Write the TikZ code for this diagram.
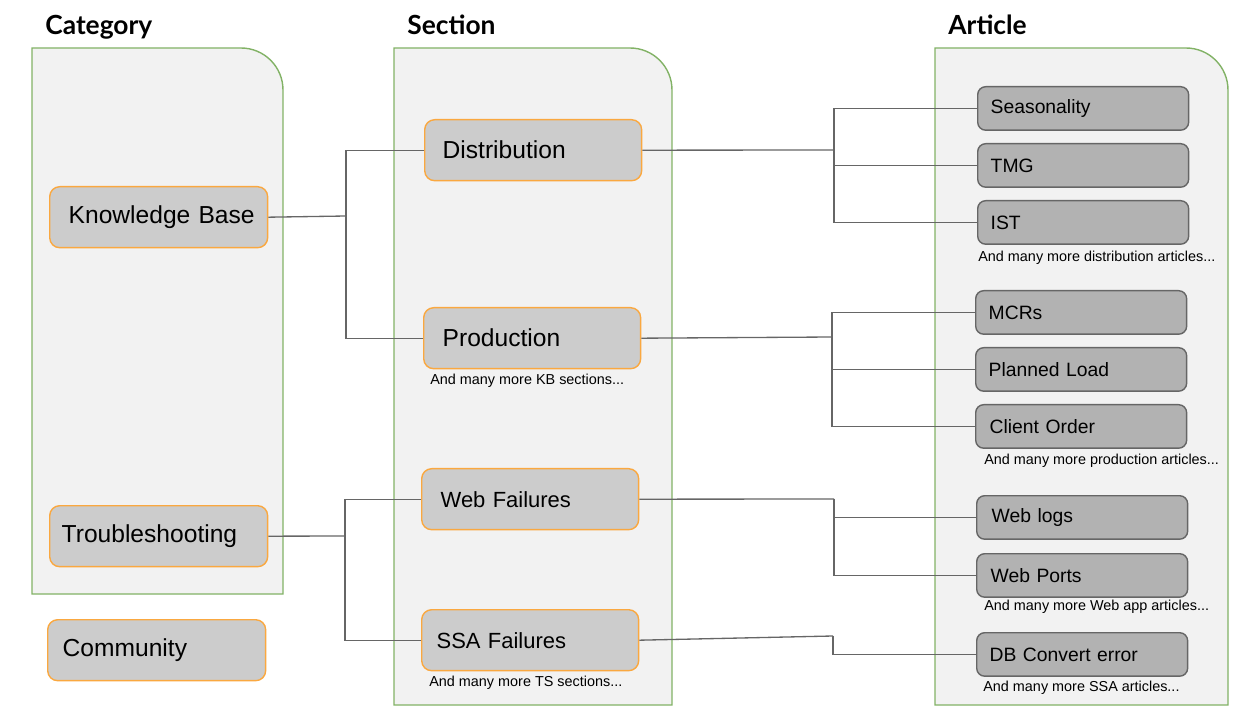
\documentclass[tikz,border=0pt]{standalone}
\usepackage{fontspec}
\setmainfont{Liberation Sans}
\newfontfamily\headfont{Lato}
\usetikzlibrary{calc}
\definecolor{PanelClr}{rgb}{0.51,0.70,0.40}
\definecolor{PanelFill}{rgb}{0.949,0.949,0.949}
\definecolor{OrangeClr}{rgb}{0.98,0.66,0.25}
\definecolor{BoxClr}{rgb}{0.8,0.8,0.8}
\definecolor{ArtClr}{rgb}{0.70,0.70,0.70}
\definecolor{LineClr}{rgb}{0.4,0.4,0.4}

\begin{document}
\begin{tikzpicture}[x=0.02cm,y=-0.02cm,
  panel/.style={draw=PanelClr,fill=PanelFill,line width=0.8pt},
  head/.style={anchor=base west,inner sep=0pt,font=\headfont\bfseries\fontsize{15}{18}\selectfont},
  catbox/.style={anchor=north west,draw=OrangeClr,fill=BoxClr,line width=0.8pt,
    rounded corners=0.2cm,minimum height=1.22cm,text width=4.36cm,inner xsep=0pt,
    align=left,font=\fontsize{14}{16}\selectfont},
  secbox/.style={catbox,text width=4.34cm},
  artbox/.style={anchor=north west,draw=LineClr,fill=ArtClr,line width=0.8pt,
    rounded corners=0.16cm,minimum height=0.87cm,text width=4.22cm,inner xsep=0pt,
    align=left,font=\fontsize{11}{13}\selectfont},
  note/.style={anchor=west,inner sep=0pt,font=\fontsize{8.2}{10}\selectfont},
  link/.style={draw=LineClr,line width=0.75pt}]
\useasboundingbox (0,0) rectangle (1252,716);

% panels
\draw[panel] (32,594) -- (32,48) -- (241,48) arc[start angle=90,end angle=0,radius=0.84cm] -- (283,594) -- cycle;
\draw[panel] (394,705) -- (394,48) -- (630,48) arc[start angle=90,end angle=0,radius=0.84cm] -- (672,705) -- cycle;
\draw[panel] (935,705) -- (935,48) -- (1186,48) arc[start angle=90,end angle=0,radius=0.84cm] -- (1228,705) -- cycle;

\node[head] (cathead) at (45,35) {Category};
\node[head] (sechead) at (407,35) {Section};
\node[head] (arthead) at (948,35) {Article};

% categories
\node[catbox] (kb) at (49,186) {\hspace*{0.38cm}Knowledge Base};
\node[catbox] (ts) at (49,505) {\hspace*{0.24cm}Troubleshooting};
\node[catbox] (comm) at (47,619) {\hspace*{0.3cm}Community};

% sections
\node[secbox] (dist) at (424,119) {\hspace*{0.36cm}Distribution};
\node[secbox] (prod) at (423,307) {\hspace*{0.38cm}Production};
\node[secbox,font=\fontsize{12.5}{15}\selectfont] (web) at (421,468) {\hspace*{0.38cm}Web Failures};
\node[secbox,font=\fontsize{12.5}{15}\selectfont] (ssa) at (421,609) {\hspace*{0.3cm}SSA Failures};
\node[note] (kbmore) at (430,381) {And many more KB sections...};
\node[note] (tsmore) at (429,683) {And many more TS sections...};

% articles
\node[artbox] (season) at (977,86) {\hspace*{0.26cm}Seasonality};
\node[artbox] (tmg) at (977,143) {\hspace*{0.26cm}TMG};
\node[artbox] (ist) at (977,200) {\hspace*{0.26cm}IST};
\node[note] (distmore) at (978,258) {And many more distribution articles...};
\node[artbox] (mcrs) at (975,290) {\hspace*{0.26cm}MCRs};
\node[artbox] (plan) at (975,347) {\hspace*{0.26cm}Planned Load};
\node[artbox] (client) at (975,404) {\hspace*{0.28cm}Client Order};
\node[note] (prodmore) at (984,461) {And many more production articles...};
\node[artbox] (weblogs) at (976,495) {\hspace*{0.3cm}Web logs};
\node[artbox] (webports) at (976,553) {\hspace*{0.28cm}Web Ports};
\node[note] (webmore) at (984,607) {And many more Web app articles...};
\node[artbox] (dbconv) at (976,632) {\hspace*{0.26cm}DB Convert error};
\node[note] (ssamore) at (983,688) {And many more SSA articles...};

% connectors
\coordinate (kbbus) at (346,216);
\coordinate (tsbus) at (345,536);
\coordinate (distbus) at (834,150);
\coordinate (prodbus) at (832,337);
\coordinate (webbus) at (834,499);
\coordinate (ssabus) at (833,636);

\draw[link] (kb.east) -- (kbbus);
\draw[link] (dist.west) -| (kbbus);
\draw[link] (prod.west) -| (kbbus);
\draw[link] (ts.east) -- (tsbus);
\draw[link] (web.west) -| (tsbus);
\draw[link] (ssa.west) -| (tsbus);

\draw[link] (dist.east) -- (distbus);
\draw[link] (season.west) -| (distbus);
\draw[link] (tmg.west) -| (distbus);
\draw[link] (ist.west) -| (distbus);
\draw[link] (prod.east) -- (prodbus);
\draw[link] (mcrs.west) -| (prodbus);
\draw[link] (plan.west) -| (prodbus);
\draw[link] (client.west) -| (prodbus);
\draw[link] (web.east) -- (webbus);
\draw[link] (weblogs.west) -| (webbus);
\draw[link] (webports.west) -| (webbus);
\draw[link] (ssa.east) -- (ssabus);
\draw[link] (dbconv.west) -| (ssabus);

\end{tikzpicture}
\end{document}
